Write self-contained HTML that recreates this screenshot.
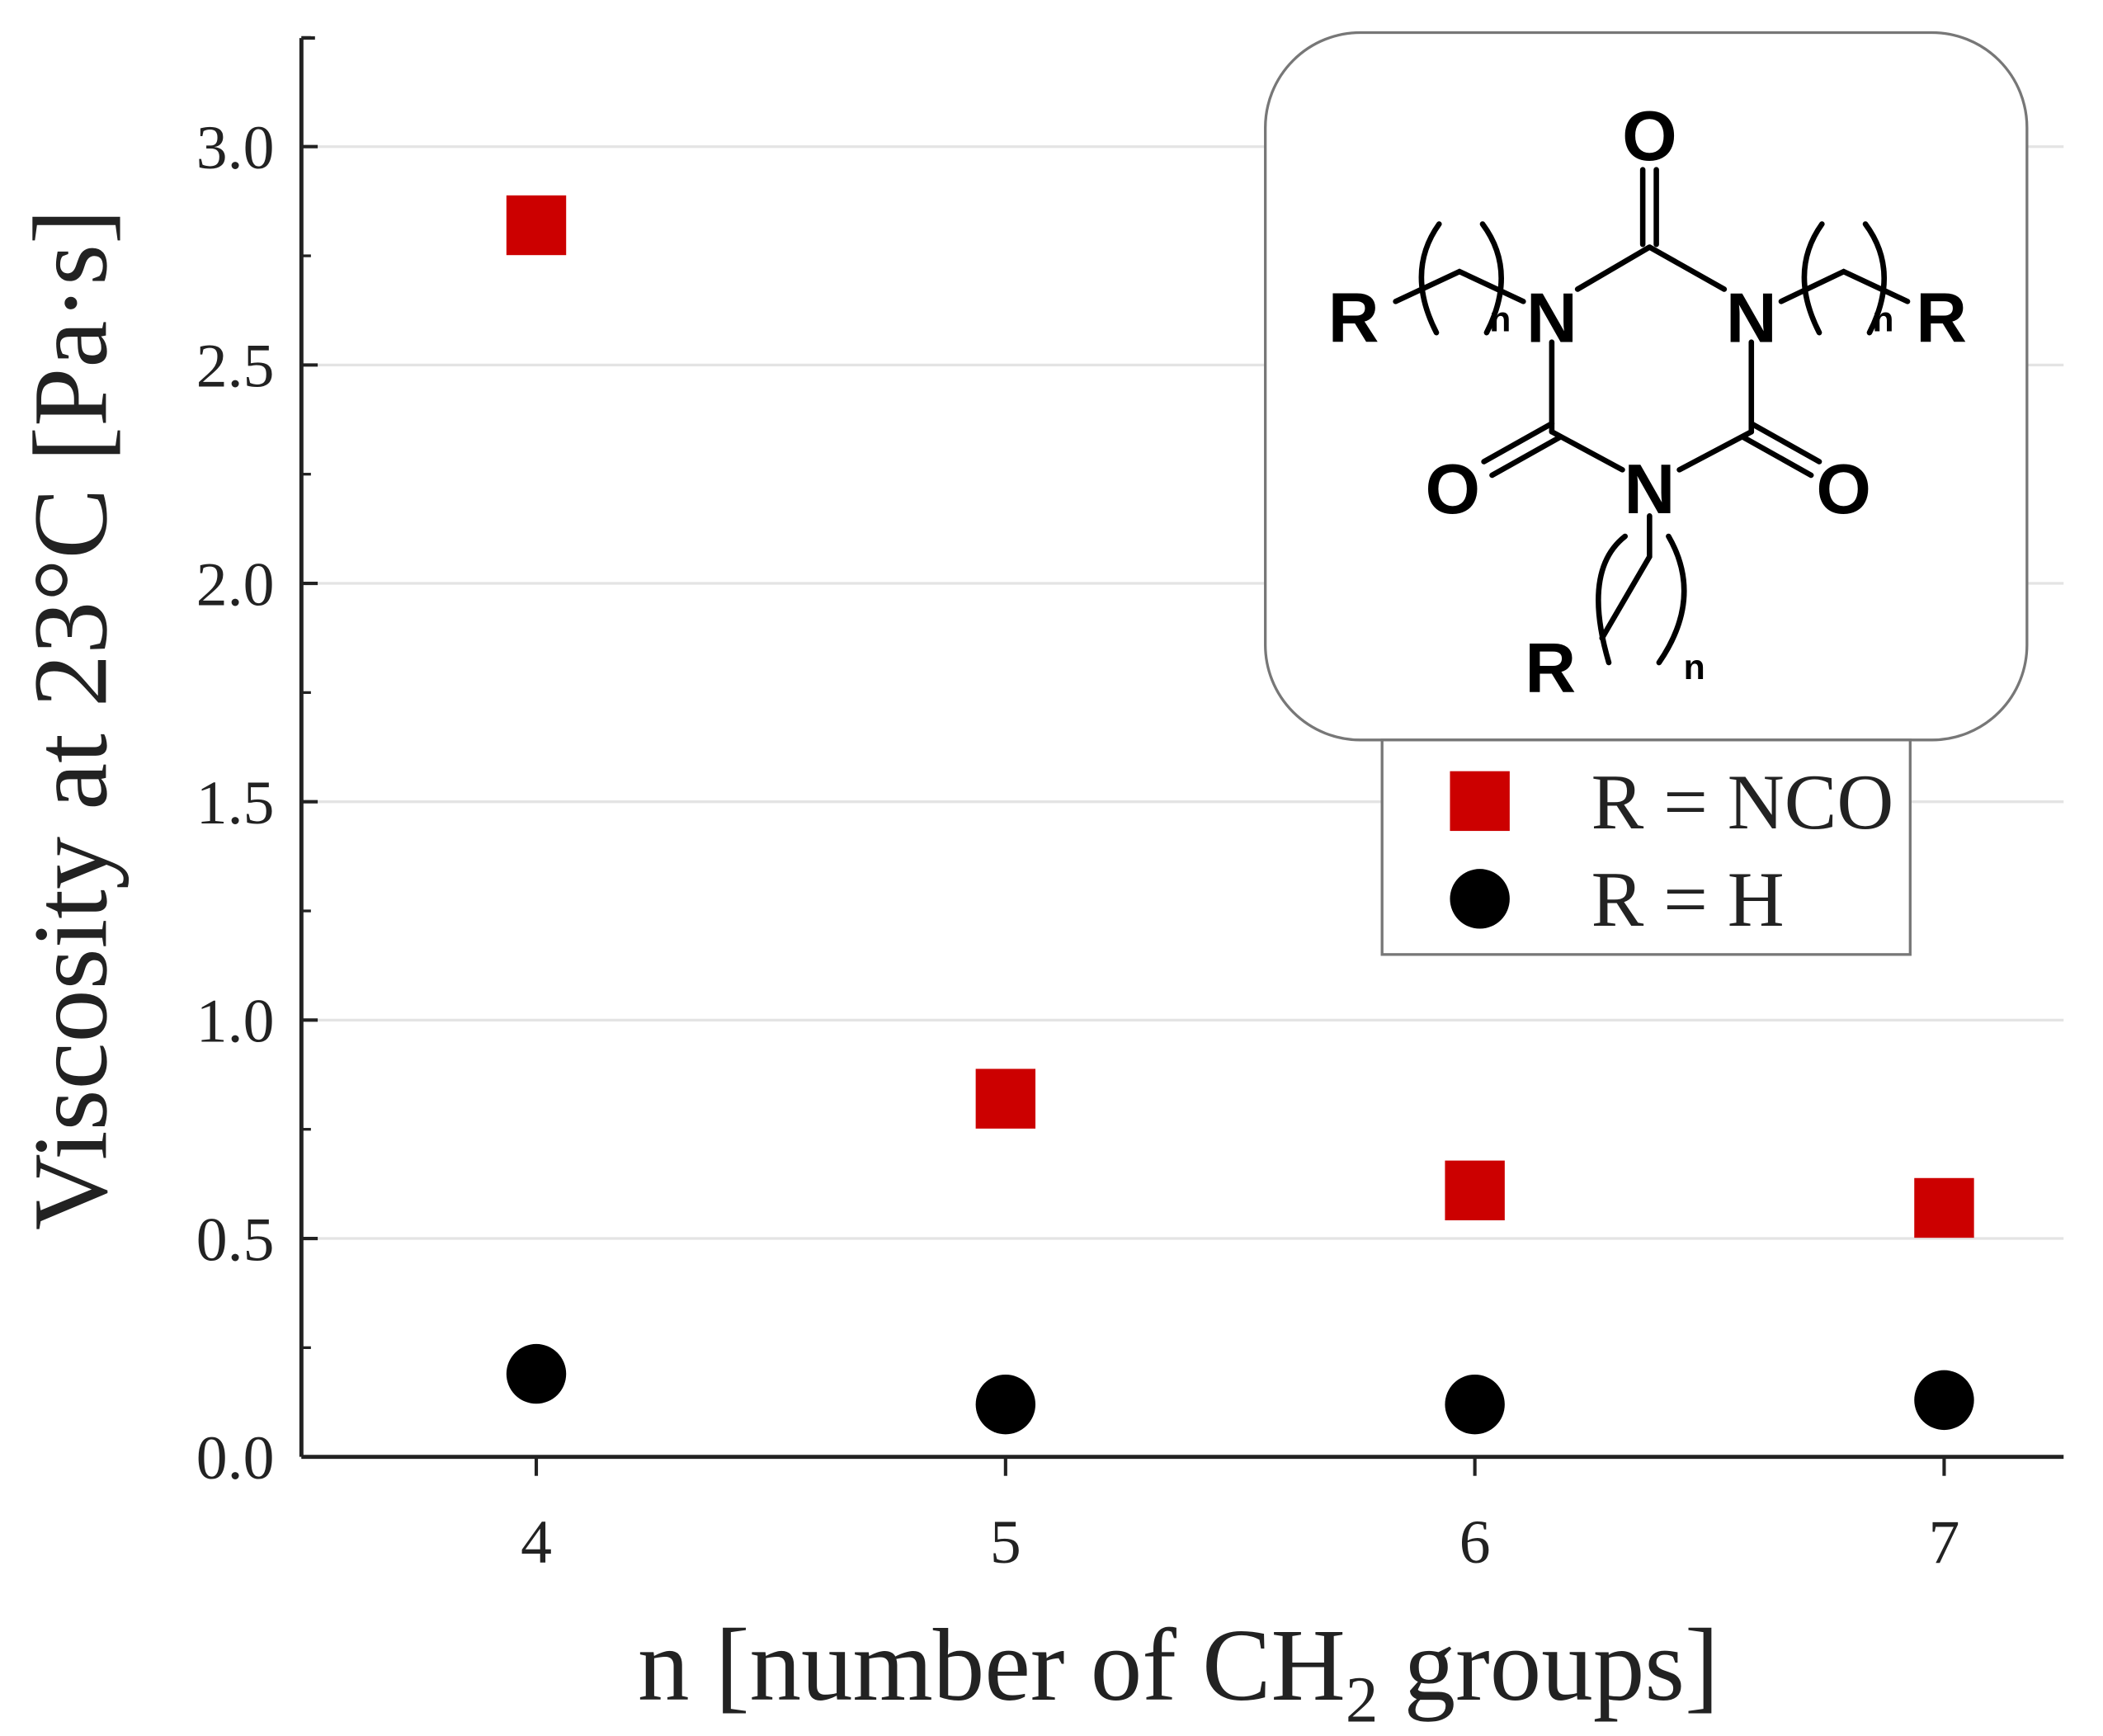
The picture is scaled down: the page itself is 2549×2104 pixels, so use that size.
<!DOCTYPE html>
<html><head><meta charset="utf-8"><style>body{margin:0;background:#fff}svg{display:block}</style></head>
<body>
<svg id="chart" width="2549" height="2104" viewBox="0 0 1549 1278.6" xmlns="http://www.w3.org/2000/svg" font-family="Liberation Serif, serif">
<g id="grid"></g>
<g id="axes"></g>
<g id="marks"></g>
<text transform="translate(78,530) rotate(-90)" text-anchor="middle" font-size="78" fill="#222">Viscosity at 23°C [Pa·s]</text>
<text x="868" y="1252" text-anchor="middle" font-size="76" fill="#222">n [number of CH<tspan font-size="48" dy="16">2</tspan><tspan dy="-16"> groups]</tspan></text>
<g font-family="Liberation Sans, sans-serif" font-weight="bold" fill="#000" stroke-linecap="round">
<rect x="932" y="24" width="561" height="521" rx="70" fill="#fff" stroke="#777" stroke-width="2"/>
<g stroke="#000" stroke-width="4" fill="none">
<path d="M1210 180 V125 M1220 180 V125"/>
<path d="M1215 182 L1162 213 M1215 182 L1270 213"/>
<path d="M1143 252 V318 M1290 252 V318"/>
<path d="M1143 318 L1195 346 M1290 318 L1237 346"/>
<path d="M1143 312 L1093 340 M1149 322 L1099 350"/>
<path d="M1290 312 L1340 340 M1284 322 L1334 350"/>
<path d="M1122 222 L1075 200 L1028 222"/>
<path d="M1312 222 L1358 200 L1405 222"/>
<path d="M1215 380 V410 L1180 470"/>
<path d="M1060 165 Q1035 200 1058 245 M1092 165 Q1118 200 1095 245"/>
<path d="M1342 165 Q1317 200 1340 245 M1374 165 Q1400 200 1377 245"/>
<path d="M1197 395 Q1165 420 1185 488 M1229 395 Q1255 440 1222 488"/>
</g>
<text x="1215" y="118" font-size="52" text-anchor="middle">O</text>
<text x="1143" y="252" font-size="52" text-anchor="middle">N</text>
<text x="1290" y="252" font-size="52" text-anchor="middle">N</text>
<text x="1215" y="378" font-size="52" text-anchor="middle">N</text>
<text x="1070" y="378" font-size="52" text-anchor="middle">O</text>
<text x="1358" y="378" font-size="52" text-anchor="middle">O</text>
<text x="997" y="252" font-size="52" text-anchor="middle">R</text>
<text x="1430" y="252" font-size="52" text-anchor="middle">R</text>
<text x="1142" y="510" font-size="52" text-anchor="middle">R</text>
<text x="1105" y="244" font-size="26" text-anchor="middle">n</text>
<text x="1387" y="244" font-size="26" text-anchor="middle">n</text>
<text x="1248" y="500" font-size="26" text-anchor="middle">n</text>
</g>
<g>
<rect x="1018" y="545" width="389" height="158" fill="#fff" stroke="#777" stroke-width="2"/>
<rect x="1068" y="568" width="44" height="44" fill="#cc0000"/>
<text x="1172" y="610" font-size="58" fill="#222">R = NCO</text>
<circle cx="1090" cy="662" r="22" fill="#000"/>
<text x="1172" y="682" font-size="58" fill="#222">R = H</text>
</g>
</svg>
<script>
const categories = [4, 5, 6, 7];
const ncoValues = [2.82, 0.82, 0.61, 0.57];
const hValues = [0.19, 0.12, 0.12, 0.13];
const yTickLabels = ["0.0","0.5","1.0","1.5","2.0","2.5","3.0"];
const NS = "http://www.w3.org/2000/svg";
const X0 = 222, X1 = 1520, YB = 1073, YT = 28;
function xs(v){ return 395 + (v - 4) * (1432 - 395) / 3; }
function ys(v){ return 1073 - v * (1073 - 108) / 3; }
function mk(tag, attrs, parent){ const e = document.createElementNS(NS, tag); for (const k in attrs) e.setAttribute(k, attrs[k]); parent.appendChild(e); return e; }
const grid = document.getElementById('grid'), axes = document.getElementById('axes'), marks = document.getElementById('marks');
yTickLabels.forEach((t) => {
  const v = parseFloat(t), y = ys(v);
  if (v > 0) {
    const g = mk('line', {x1: X0, x2: X1, y1: y, y2: y, stroke: '#e4e4e4', 'stroke-width': 2}, grid);
    
    
  }
  const tk = mk('line', {x1: X0, x2: X0 + 12, y1: y, y2: y, stroke: '#222', 'stroke-width': 2.5}, axes);
  
  
  const m = mk('line', {x1: X0, x2: X0 + 7, y1: ys(v + 0.25), y2: ys(v + 0.25), stroke: '#222', 'stroke-width': 2}, axes);
  
  
  const lb = mk('text', {x: X0 - 20, y: y + 16, 'text-anchor': 'end', 'font-size': 46, fill: '#222'}, axes);
  lb.textContent = t;
  
  
});
const ya = mk('line', {x1: X0, x2: X0, y1: YT, y2: YB, stroke: '#222', 'stroke-width': 3}, axes);


const yt = mk('line', {x1: X0, x2: X0 + 10, y1: YT, y2: YT, stroke: '#222', 'stroke-width': 2.5}, axes);


const xa = mk('line', {x1: X0, x2: X1, y1: YB, y2: YB, stroke: '#222', 'stroke-width': 3}, axes);


categories.forEach((c) => {
  const x = xs(c);
  const tk = mk('line', {x1: x, x2: x, y1: YB, y2: YB + 14, stroke: '#222', 'stroke-width': 2.5}, axes);
  
  
  const lb = mk('text', {x: x, y: YB + 78, 'text-anchor': 'middle', 'font-size': 46, fill: '#222'}, axes);
  lb.textContent = String(c);
  
  
});
categories.forEach((c, i) => {
  const s = mk('rect', {x: xs(c) - 22, y: ys(ncoValues[i]) - 22, width: 44, height: 44, fill: '#cc0000'}, marks);
  
  
  const p = mk('circle', {cx: xs(c), cy: ys(hValues[i]), r: 22, fill: '#000'}, marks);
  
  
});
</script>
</body></html>
